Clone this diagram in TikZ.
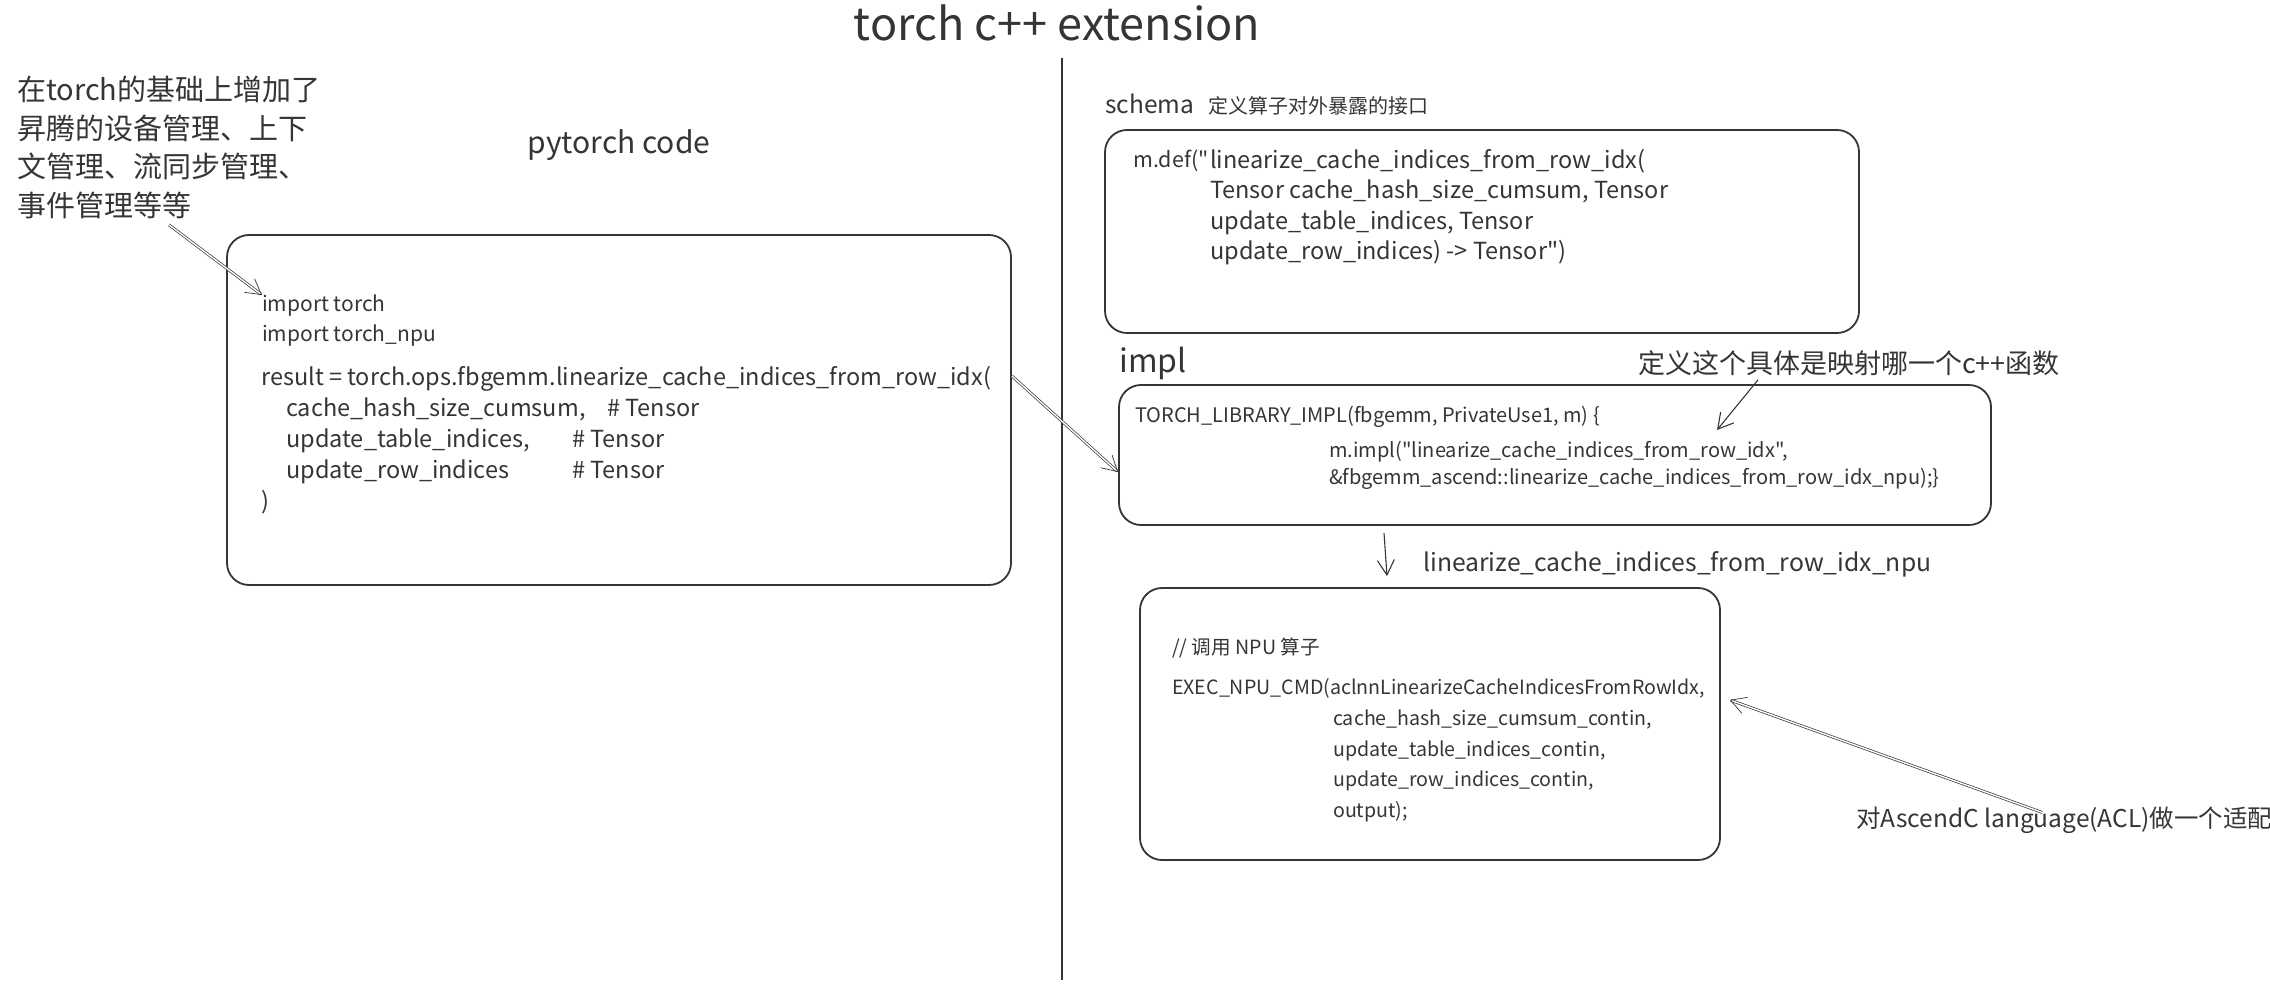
\documentclass[tikz,border=0pt]{standalone}
\usepackage{fontspec}
\setmainfont{Noto Sans CJK SC}[Ligatures=TeXOff]
\usetikzlibrary{arrows.meta}

\definecolor{ink}{HTML}{353535}
\newcommand{\fs}[2]{\fontsize{#1}{#2}\selectfont}

\tikzset{
  box/.style={draw=ink, line width=1.8pt, rounded corners=22pt, inner sep=0pt},
  code/.style={anchor=north west, inner sep=0pt, text=ink, align=left},
  ptr/.style={draw=ink, line width=1.1pt, -{Straight Barb[length=15pt,width=17pt]}},
  dptr/.style={ptr, double=white, double distance=1.4pt, line width=0.7pt},
}

\begin{document}
\begin{tikzpicture}[x=1pt,y=-1pt]
  \useasboundingbox (0,0) rectangle (2270,992);

  \node[text=ink, inner sep=0pt] (title) at (1057,23) {\fs{45}{52}torch c++ extension};
  \draw[draw=ink, line width=1.6pt] (1062,58) -- (1062,980);

  % left side
  \node[code, font={\fs{29}{38.5}}] (note) at (17,76)
    {在torch的基础上增加了\\昇腾的设备管理、上下\\文管理、流同步管理、\\事件管理等等};
  \node[text=ink, inner sep=0pt] (pylbl) at (619,145) {\fs{30}{36}pytorch code};
  \node[box, minimum width=784pt, minimum height=350pt] (pybox) at (619,410) {};
  \node[code, font={\fs{21}{29.5}}] (pyimp) at (262,295) {import torch\\import torch\_npu};
  \node[code, font={\fs{23.5}{31}}] (pyres) at (261,366)
    {result = torch.ops.fbgemm.linearize\_cache\_indices\_from\_row\_idx(\\
     \hspace*{25pt}\makebox[321pt][l]{cache\_hash\_size\_cumsum,}\# Tensor\\
     \hspace*{25pt}\makebox[286pt][l]{update\_table\_indices,}\# Tensor\\
     \hspace*{25pt}\makebox[286pt][l]{update\_row\_indices}\# Tensor\\
     )};

  % schema
  \node[code, anchor=west] (schemalbl) at (1105,105)
    {\fs{24.5}{30}schema\hspace{14pt}{\fs{20}{24}定义算子对外暴露的接口}};
  \node[box, minimum width=754pt, minimum height=203pt] (schemabox) at (1482,231.5) {};
  \node[code, font={\fs{21.5}{30.5}}] (schemadef) at (1133,150) {m.def("};
  \node[code, font={\fs{23.5}{30.5}}] (schemacode) at (1210,149)
    {linearize\_cache\_indices\_from\_row\_idx(\\
     Tensor cache\_hash\_size\_cumsum, Tensor\\
     update\_table\_indices, Tensor\\
     update\_row\_indices) -> Tensor")};

  % impl
  \node[code, anchor=west] (impllbl) at (1119,363) {\fs{32}{36}impl};
  \node[code, anchor=west] (implnote) at (1638,363) {\fs{27}{32}定义这个具体是映射哪一个c++函数};
  \node[box, minimum width=872pt, minimum height=140pt] (implbox) at (1555,455) {};
  \node[code, font={\fs{20}{27}}] (implcode) at (1135,406)
    {TORCH\_LIBRARY\_IMPL(fbgemm, PrivateUse1, m) \{\\[8pt]
     \hspace*{194pt}m.impl("linearize\_cache\_indices\_from\_row\_idx",\\
     \hspace*{194pt}\&fbgemm\_ascend::linearize\_cache\_indices\_from\_row\_idx\_npu);\}};
  \coordinate (implhit) at (1717,430);

  % npu kernel
  \node[code, anchor=west] (npulbl) at (1423,564) {\fs{24.7}{30}linearize\_cache\_indices\_from\_row\_idx\_npu};
  \node[box, minimum width=580pt, minimum height=272pt] (npubox) at (1430,724) {};
  \node[code, font={\fs{19.6}{30.8}}] (npucode) at (1172,638)
    {// 调用 NPU 算子\\[9pt]
     EXEC\_NPU\_CMD(aclnnLinearizeCacheIndicesFromRowIdx,\\
     \hspace*{161pt}cache\_hash\_size\_cumsum\_contin,\\
     \hspace*{161pt}update\_table\_indices\_contin,\\
     \hspace*{161pt}update\_row\_indices\_contin,\\
     \hspace*{161pt}output);};
  \node[code, anchor=west] (aclnote) at (1856,820) {\fs{24.5}{30}对AscendC language(ACL)做一个适配};

  % pointers
  \draw[dptr] ([yshift=-6pt]note.south) -- (pyimp.north west);
  \draw[dptr] ([yshift=34pt]pybox.east) -- ([yshift=-17pt]implbox.west);
  \draw[ptr] ([xshift=-91pt,yshift=-4pt]implnote.south) -- (implhit);
  \draw[ptr] ([xshift=-171pt,yshift=-7pt]implbox.south) -- ([xshift=-43pt,yshift=11pt]npubox.north);
  \draw[dptr] ([xshift=-22pt,yshift=-6pt]aclnote.north) -- ([xshift=9pt,yshift=24pt]npubox.east);
\end{tikzpicture}
\end{document}
